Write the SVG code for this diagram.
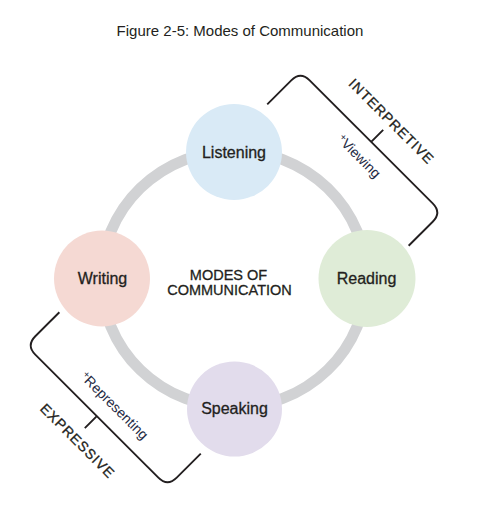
<svg xmlns="http://www.w3.org/2000/svg" width="479" height="512" viewBox="0 0 479 512">
<style>
  text { font-family: "Liberation Sans", Arial, sans-serif; fill: #231f20; }
  .title { font-size: 15px; }
  .lbl { font-size: 16px; text-anchor: middle; stroke: #231f20; stroke-width: 0.3; }
  .center { font-size: 14.5px; text-anchor: middle; stroke: #231f20; stroke-width: 0.3; }
  .cat { font-size: 14px; text-anchor: middle; letter-spacing: 1px; stroke: #231f20; stroke-width: 0.3; }
  .sub { font-size: 14px; text-anchor: middle; fill: #1e2a44; }
  .ring { fill: none; stroke: #d1d2d4; stroke-width: 11; }
  .bracket { fill: none; stroke: #231f20; stroke-width: 1.9; stroke-linecap: butt; stroke-linejoin: round; }
</style>
<rect width="479" height="512" fill="#ffffff"/>
<text class="title" x="240" y="36" text-anchor="middle">Figure 2-5: Modes of Communication</text>

<g id="connectors">
  <ellipse class="ring" cx="234" cy="279" rx="132.5" ry="128.5"/>
  <g transform="translate(234,279) rotate(-45)">
    <path class="bracket" d="M147 -100 L181 -100 Q194 -100 194 -87 L194 87 Q194 100 181 100 L147 100 M194 0 L211 0"/>
    <path class="bracket" d="M-147 -100 L-181 -100 Q-194 -100 -194 -87 L-194 87 Q-194 100 -181 100 L-147 100 M-194 0 L-211 0"/>
  </g>
</g>

<g id="node-listening">
  <circle cx="234" cy="152" r="48" fill="#d9eaf6"/>
  <text class="lbl" x="234" y="157.7">Listening</text>
</g>
<g id="node-reading">
  <circle cx="367" cy="278.5" r="48.5" fill="#dfecd7"/>
  <text class="lbl" x="366.5" y="283.5">Reading</text>
</g>
<g id="node-speaking">
  <circle cx="234.5" cy="409" r="47.5" fill="#e2dcec"/>
  <text class="lbl" x="234.5" y="414">Speaking</text>
</g>
<g id="node-writing">
  <circle cx="102" cy="278.5" r="48" fill="#f5d9d3"/>
  <text class="lbl" x="102.5" y="283.5">Writing</text>
</g>
<g id="node-center">
  <text class="center" x="228.5" y="279.5">MODES OF</text>
  <text class="center" x="229.5" y="294.5">COMMUNICATION</text>
</g>

<g id="label-interpretive">
  <text class="cat" x="388.1" y="124.9" transform="rotate(45 388.1 124.9)">INTERPRETIVE</text>
  <text class="sub" x="355.6" y="159.6" transform="rotate(45 355.6 159.6)"><tspan font-size="10" baseline-shift="4">+</tspan>Viewing</text>
</g>
<g id="label-expressive">
  <text class="cat" x="74.2" y="444.4" transform="rotate(45 74.2 444.4)">EXPRESSIVE</text>
  <text class="sub" x="111" y="409" transform="rotate(45 111 409)"><tspan font-size="10" baseline-shift="4">+</tspan>Representing</text>
</g>
</svg>
